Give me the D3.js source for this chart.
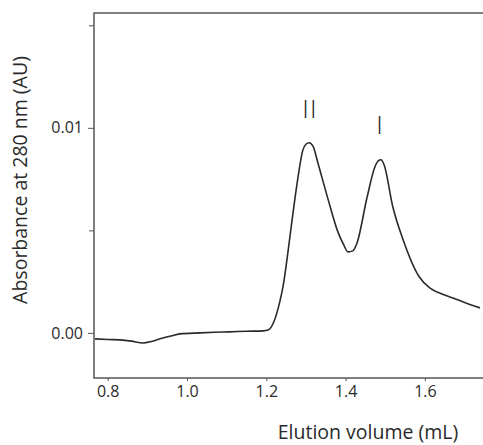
<!DOCTYPE html>
<html>
<head>
<meta charset="utf-8">
<script src="https://cdn.jsdelivr.net/npm/d3@7"></script>
<style>
  body { margin: 0; background: #fff; }
  svg { display: block; }
  .axis text { font-family: "Open Sans", sans-serif; font-size: 16px; fill: #2a2a2a; }
  .axis path, .axis line { stroke: #555; }
</style>
</head>
<body>
<div id="chart"></div>
<script>

// Elution volume (mL)
var volume = [0.768, 0.80, 0.831, 0.86, 0.889, 0.91, 0.932, 0.96, 0.982, 1.033, 1.07, 1.108, 1.15, 1.192, 1.206,
    1.219, 1.235, 1.242, 1.255, 1.265, 1.280, 1.292, 1.300, 1.308, 1.318, 1.330, 1.356, 1.381, 1.395, 1.406,
    1.418, 1.429, 1.454, 1.474, 1.483, 1.489, 1.497, 1.519, 1.545, 1.585, 1.613, 1.640, 1.671, 1.705, 1.739];

// Absorbance at 280 nm (AU)
var absorbance = [-0.00029, -0.00032, -0.00034, -0.00040, -0.00049, -0.00042, -0.00029, -0.00015, -0.00005, 0.0000, 0.00003, 0.00005, 0.00008, 0.0001, 0.00015,
    0.00054, 0.0016, 0.00224, 0.0040, 0.0055, 0.0076, 0.0089, 0.0092, 0.00927, 0.0091, 0.0083, 0.0065, 0.0049, 0.0043, 0.00395,
    0.0040, 0.0044, 0.0066, 0.0081, 0.0084, 0.00844, 0.0082, 0.00615, 0.00454, 0.00275, 0.00218, 0.00192, 0.0017, 0.00145, 0.00122];

var xTicks = [0.8, 1.0, 1.2, 1.4, 1.6];
var yTicks = [0.00, 0.01];
var yMinorTicks = [0.005, 0.015];

var peakLabels = ["II", "I"];
var peakVolumes = [1.31, 1.487];
var peakHeights = [0.0105, 0.0097];

var xTitle = "Elution volume (mL)";
var yTitle = "Absorbance at 280 nm (AU)";

var W = 483, H = 445;
var margin = {top: 13, left: 94, bottom: 67, right: -1};
var width = W - margin.left - margin.right;
var height = H - margin.top - margin.bottom;

var svg = d3.select("#chart").append("svg")
    .attr("width", W)
    .attr("height", H);

var g = svg.append("g")
    .attr("transform", "translate(" + margin.left + "," + margin.top + ")");

var x = d3.scaleLinear().domain([0.7655, 1.749]).range([0, width]);
var y = d3.scaleLinear().domain([-0.0022, 0.0156]).range([height, 0]);

// frame
g.append("rect")
    .attr("width", width)
    .attr("height", height)
    .attr("fill", "none")
    .attr("stroke", "#555")
    .attr("stroke-width", 1.5);

var xAxis = g.append("g")
    .attr("class", "axis")
    .attr("transform", "translate(0," + height + ")")
    .call(d3.axisBottom(x).tickValues(xTicks).tickSize(3).tickPadding(5)
        .tickFormat(d3.format(".1f")));
xAxis.select(".domain").remove();

var yAxis = g.append("g")
    .attr("class", "axis")
    .call(d3.axisLeft(y).tickValues(yTicks).tickSize(6).tickPadding(5)
        .tickFormat(d3.format(".2f")));
yAxis.select(".domain").remove();

g.append("g")
    .attr("class", "axis")
    .call(d3.axisLeft(y).tickValues(yMinorTicks).tickSize(5).tickFormat(""))
    .select(".domain").remove();

var line = d3.line()
    .x(function(d, i) { return x(volume[i]); })
    .y(function(d) { return y(d); })
    .curve(d3.curveMonotoneX);

g.append("path")
    .datum(absorbance)
    .attr("d", line)
    .attr("fill", "none")
    .attr("stroke", "#2a2a2a")
    .attr("stroke-width", 1.6);

// peak markers
g.selectAll(".peak-label")
    .data(peakLabels)
    .enter().append("text")
    .attr("class", "peak-label")
    .attr("x", function(d, i) { return x(peakVolumes[i]); })
    .attr("y", function(d, i) { return y(peakHeights[i]); })
    .attr("text-anchor", "middle")
    .attr("letter-spacing", "1px")
    .style("font-family", "'Open Sans', sans-serif")
    .style("font-size", "26px")
    .style("font-weight", 300)
    .style("fill", "#222")
    .text(function(d) { return d; });

svg.append("text")
    .attr("x", 368)
    .attr("y", 439)
    .attr("text-anchor", "middle")
    .style("font-family", "'Open Sans', sans-serif")
    .style("font-size", "19.5px")
    .style("fill", "#2a2a2a")
    .text(xTitle);

svg.append("text")
    .attr("transform", "translate(27,180) rotate(-90)")
    .attr("text-anchor", "middle")
    .style("font-family", "'Open Sans', sans-serif")
    .style("font-size", "19.5px")
    .style("fill", "#2a2a2a")
    .text(yTitle);

</script>
</body>
</html>
